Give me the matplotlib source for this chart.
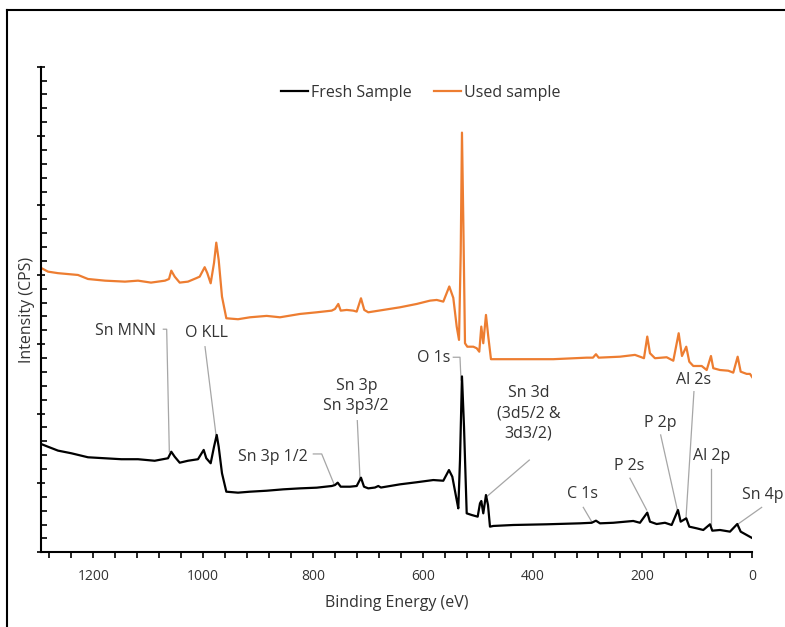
import numpy as np
import matplotlib
matplotlib.use("Agg")
import matplotlib.pyplot as plt
from matplotlib.lines import Line2D
from matplotlib.ticker import MultipleLocator, NullFormatter

plt.rcParams['font.family'] = ['Open Sans', 'DejaVu Sans']

# Used sample (orange) - binding energy (eV) and intensity (arb. units)
used_be = [1295.2, 1282.4, 1264.2, 1227.8, 1209.6, 1178.6, 1142.2, 1118.5, 1094.9, 1069.4,
           1062.1, 1057.9, 1051.7, 1042.6, 1027.5, 1012.4, 1006.2, 997.1, 992.3, 986.2,
           980.1, 976.0, 971.6, 965.6, 957.7, 936.4, 914.6, 884.2, 860.0, 823.6,
           793.1, 765.8, 759.8, 753.8, 749.4, 738.5, 726.5, 720.3, 712.5, 706.5,
           699.2, 671.9, 641.5, 611.1, 586.8, 574.6, 562.6, 551.7, 544.4, 538.2,
           534.0, 530.9, 528.6, 526.2, 523.1, 518.9, 508.0, 501.8, 497.1, 493.4,
           489.8, 484.9, 480.7, 475.8, 447.2, 386.6, 362.3, 301.5, 290.1, 284.6,
           279.7, 240.9, 213.6, 204.5, 197.2, 191.2, 186.3, 177.2, 155.9, 143.8,
           134.0, 128.0, 120.2, 114.7, 107.4, 92.1, 83.0, 75.2, 71.0, 58.8,
           43.7, 34.6, 26.6, 21.1, 10.2, 4.2, 0.0]
used_int = [20.50, 20.23, 20.12, 19.99, 19.70, 19.58, 19.51, 19.58, 19.44, 19.58,
            19.70, 20.30, 19.87, 19.44, 19.51, 19.76, 19.87, 20.55, 20.12, 19.39,
            20.86, 22.32, 21.07, 18.43, 16.87, 16.80, 16.94, 17.04, 16.94, 17.18,
            17.30, 17.42, 17.54, 17.90, 17.42, 17.47, 17.42, 17.35, 18.31, 17.47,
            17.30, 17.47, 17.66, 17.90, 18.14, 18.19, 18.07, 19.16, 18.34, 16.27,
            15.31, 21.58, 30.25, 23.96, 15.07, 14.82, 14.82, 14.71, 14.46, 16.27,
            15.07, 17.11, 15.55, 13.92, 13.92, 13.92, 13.92, 14.03, 14.03, 14.28,
            14.03, 14.10, 14.23, 14.10, 13.99, 15.55, 14.35, 13.99, 14.06, 13.81,
            15.79, 14.15, 14.82, 13.74, 13.43, 13.43, 13.14, 14.15, 13.27, 13.14,
            13.09, 12.95, 14.10, 13.02, 12.86, 12.86, 12.62]

# Fresh sample (black)
fresh_be = [1295.2, 1282.4, 1264.2, 1240.0, 1209.6, 1179.2, 1148.9, 1118.5, 1088.1, 1063.9,
            1057.9, 1051.7, 1042.6, 1027.5, 1009.3, 998.9, 994.2, 986.2, 980.1, 975.2,
            971.6, 965.6, 957.7, 936.4, 914.6, 884.2, 853.9, 823.6, 793.1, 765.8,
            759.8, 754.9, 749.4, 732.5, 720.3, 712.5, 707.0, 699.2, 687.0, 681.0,
            676.1, 641.5, 611.1, 580.8, 562.6, 552.3, 546.2, 538.2, 535.3, 532.2,
            528.6, 524.9, 520.0, 510.9, 500.0, 495.8, 493.4, 489.8, 484.9, 481.2,
            477.6, 471.6, 435.2, 374.4, 313.7, 292.4, 284.6, 277.3, 253.1, 216.7,
            204.5, 191.2, 186.3, 174.1, 159.0, 146.8, 135.3, 130.4, 120.2, 114.7,
            101.2, 89.2, 77.0, 72.8, 58.8, 40.6, 27.3, 21.1, 10.2, 1.1]
fresh_int = [7.81, 7.61, 7.33, 7.14, 6.85, 6.78, 6.71, 6.71, 6.60, 6.78,
             7.25, 6.89, 6.46, 6.60, 6.71, 7.38, 6.78, 6.42, 7.61, 8.46,
             7.61, 5.70, 4.37, 4.30, 4.37, 4.44, 4.54, 4.61, 4.66, 4.78,
             4.85, 5.02, 4.73, 4.73, 4.78, 5.38, 4.73, 4.61, 4.67, 4.78,
             4.67, 4.90, 5.05, 5.21, 5.16, 5.93, 5.45, 3.77, 3.17, 6.65,
             12.68, 9.06, 2.81, 2.69, 2.57, 3.53, 3.70, 2.81, 4.13, 3.41,
             1.85, 1.90, 1.97, 2.02, 2.09, 2.13, 2.28, 2.09, 2.13, 2.26,
             2.13, 2.86, 2.21, 2.04, 2.13, 1.97, 3.05, 2.21, 2.45, 1.85,
             1.73, 1.61, 2.02, 1.56, 1.61, 1.49, 2.04, 1.49, 1.25, 1.05]

# peak labels: text, text position, leader line path
labels = [
    ("Sn MNN", (1142.2, 15.98), [(1072.4, 16.08), (1066.3, 16.08), (1061.5, 7.25)]),
    ("O KLL", (994.2, 15.79), [(996.5, 14.82), (976.5, 8.46)]),
    ("Sn 3p 1/2", (873.3, 6.89), [(799.3, 7.09), (784.0, 7.09), (761.6, 4.92)]),
    ("Sn 3p\nSn 3p3/2", (721.0, 11.27), [(719.2, 9.49), (714.3, 5.34)]),
    ("O 1s", (580.1, 13.99), [(544.4, 14.06), (532.2, 14.06), (530.4, 12.42)]),
    ("Sn 3d\n(3d5/2 &\n3d3/2)", (407.9, 10.02), [(406.0, 6.65), (483.6, 4.01)]),
    ("C 1s", (308.8, 4.18), [(307.7, 3.24), (292.4, 2.21)]),
    ("P 2s", (224.0, 6.24), [(222.7, 5.34), (192.3, 3.05)]),
    ("P 2p", (166.8, 9.34), [(166.8, 8.46), (136.6, 3.10)]),
    ("Al 2s", (106.2, 12.42), [(106.2, 11.58), (120.7, 2.45)]),
    ("Al 2p", (73.9, 6.94), [(75.7, 5.98), (75.7, 1.97)]),
    ("Sn 4p", (-18.9, 4.13), [(-17.1, 3.24), (28.4, 1.97)]),
]

fig = plt.figure(figsize=(7.85, 6.27), dpi=100)
ax = fig.add_axes([0.0522, 0.1191, 0.9061, 0.7745])

ax.plot(fresh_be, fresh_int, color='black', lw=1.6, label='Fresh Sample')
ax.plot(used_be, used_int, color='#ED7D31', lw=1.6, label='Used sample')

text_col = '#333333'
for txt, (tx, ty), path in labels:
    px, py = zip(*path)
    ax.plot(px, py, color='#A6A6A6', lw=0.9, clip_on=False, zorder=1)
    ax.text(tx, ty, txt, ha='center', va='center', fontsize=11.5, color=text_col,
            linespacing=1.35, clip_on=False)

ax.set_xlim(1295.2, 0)
ax.set_ylim(0, 35)
ax.xaxis.set_major_locator(MultipleLocator(200))
ax.xaxis.set_minor_locator(MultipleLocator(40))
ax.yaxis.set_major_locator(MultipleLocator(5))
ax.yaxis.set_minor_locator(MultipleLocator(1))
ax.yaxis.set_major_formatter(NullFormatter())
ax.tick_params(axis='x', which='major', direction='out', length=4, width=1.2,
               labelsize=10, colors='black', labelcolor=text_col, pad=8)
ax.tick_params(axis='x', which='minor', direction='out', length=4, width=1.2)
ax.tick_params(axis='y', which='major', direction='inout', length=6, width=1.2)
ax.tick_params(axis='y', which='minor', direction='in', length=4, width=1.2)

for s in ['top', 'right']:
    ax.spines[s].set_visible(False)
for s in ['left', 'bottom']:
    ax.spines[s].set_linewidth(1.5)

ax.set_xlabel('Binding Energy (eV)', fontsize=11.5, color=text_col, labelpad=8)
ax.set_ylabel('Intensity (CPS)', fontsize=11.5, color=text_col)
ax.yaxis.set_label_coords(-0.0084, 0.5)

ax.legend(loc='center', bbox_to_anchor=(0.534, 0.946), ncol=2, frameon=False,
          fontsize=11.5, handlelength=1.7, handletextpad=0.2, columnspacing=1.4,
          labelcolor=text_col)

# outer frame (cut off at right and bottom)
fig.add_artist(Line2D([7 / 785, 1.0], [1 - 10 / 627, 1 - 10 / 627], color='black', lw=1.5))
fig.add_artist(Line2D([7 / 785, 7 / 785], [0.0, 1 - 10 / 627], color='black', lw=1.5))

fig.savefig('out.png', dpi=100)
